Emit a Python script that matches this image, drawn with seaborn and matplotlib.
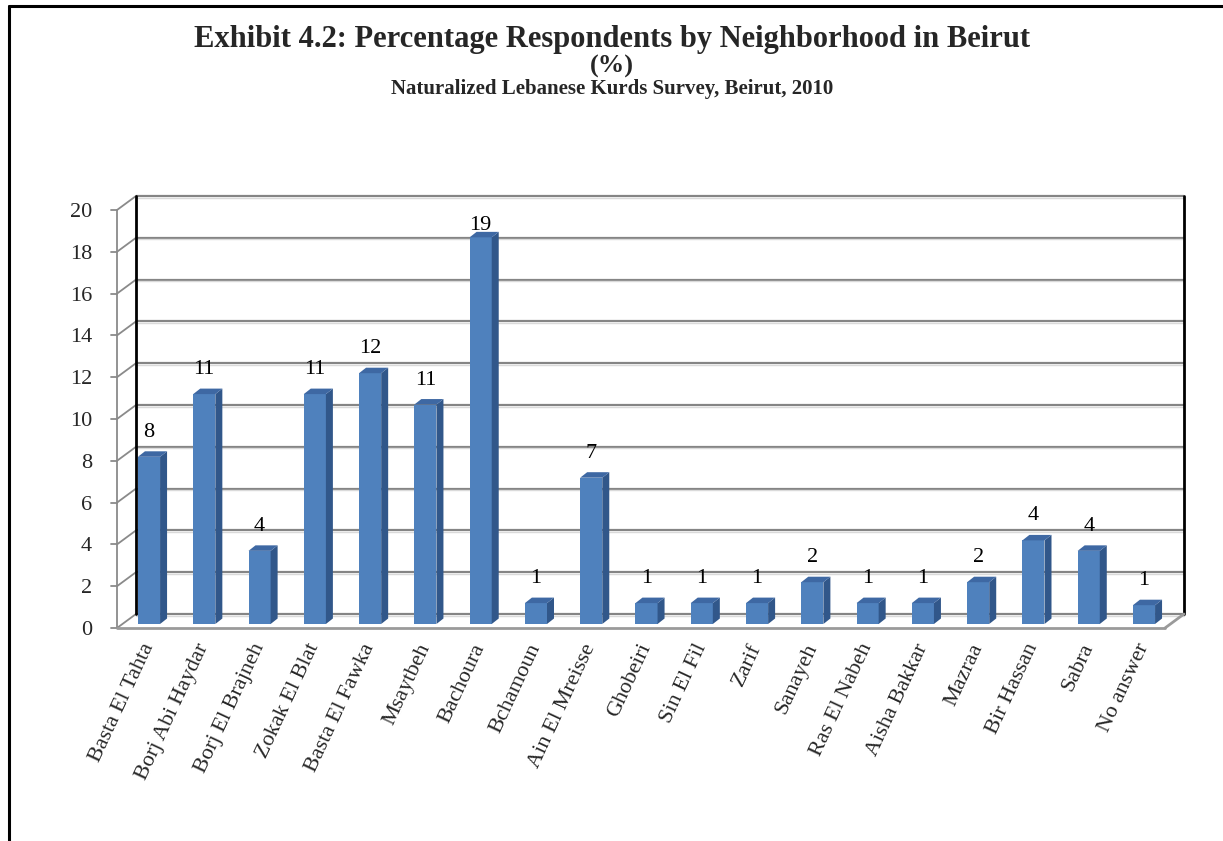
import numpy as np
import pandas as pd
import matplotlib
matplotlib.use("Agg")
import matplotlib.pyplot as plt
import seaborn as sns
from matplotlib.transforms import ScaledTranslation

# ---- data ----
neighborhoods = ["Basta El Tahta", "Borj Abi Haydar", "Borj El Brajneh", "Zokak El Blat",
                 "Basta El Fawka", "Msaytbeh", "Bachoura", "Bchamoun", "Ain El Mreisse",
                 "Ghobeiri", "Sin El Fil", "Zarif", "Sanayeh", "Ras El Nabeh",
                 "Aisha Bakkar", "Mazraa", "Bir Hassan", "Sabra", "No answer"]
percent = [8.0, 11.0, 3.5, 11.0, 12.0, 10.5, 18.5, 1.0, 7.0,
           1.0, 1.0, 1.0, 2.0, 1.0, 1.0, 2.0, 4.0, 3.5, 0.9]
value_labels = ["8", "11", "4", "11", "12", "11", "19", "1", "7",
                "1", "1", "1", "2", "1", "1", "2", "4", "4", "1"]
y_ticks = [0, 2, 4, 6, 8, 10, 12, 14, 16, 18, 20]

title = "Exhibit 4.2: Percentage Respondents by Neighborhood in Beirut"
title2 = "(%)"
subtitle = "Naturalized Lebanese Kurds Survey, Beirut, 2010"

df = pd.DataFrame({"Neighborhood": neighborhoods, "Percent": percent})

sns.set_theme(style="white")
plt.rcParams["font.family"] = ["Liberation Serif", "DejaVu Serif"]

W, H, DPI = 1223, 841, 100
fig = plt.figure(figsize=(W / DPI, H / DPI), dpi=DPI)
fig.patch.set_facecolor("white")

# front plane of the pseudo-3D box (pixel geometry)
ax_l, ax_r, ax_top, ax_bot = 117, 1165, 210, 628
ax = fig.add_axes([ax_l / W, (H - ax_bot) / H, (ax_r - ax_l) / W, (ax_bot - ax_top) / H])
ax.set_facecolor("none")

BAR_BLUE = "#4F81BD"
SIDE_BLUE = "#31578A"
TOP_BLUE = "#3E68A3"

sns.barplot(data=df, x="Neighborhood", y="Percent", color=BAR_BLUE, width=0.4,
            saturation=1, ax=ax, zorder=3, edgecolor="none")

xmin, xmax = -0.579, 18.38
ax.set_xlim(xmin, xmax)
ax.set_ylim(0, 20)

# conversion pixels -> data units
px_x = (ax_r - ax_l) / (xmax - xmin)
px_y = (ax_bot - ax_top) / 20.0
back_dx = 19 / px_x
back_dy = 14 / px_y

# back wall grid lines
for t in y_ticks:
    ax.plot([xmin + back_dx, xmax + back_dx], [t + back_dy, t + back_dy],
            color="#858585", lw=1.6, zorder=1, clip_on=False, solid_capstyle="butt")
    ax.plot([xmin + back_dx, xmax + back_dx], [t + back_dy - 1.6 / px_y] * 2,
            color="#dadada", lw=1.0, zorder=1, clip_on=False)
    # side wall diagonals
    ax.plot([xmin, xmin + back_dx], [t, t + back_dy], color="#8a8a8a", lw=1.3,
            zorder=1, clip_on=False)
    # tick marks
    ax.plot([xmin - 6 / px_x, xmin], [t, t], color="#8a8a8a", lw=1.3, zorder=1, clip_on=False)

# back wall verticals
ax.plot([xmin + back_dx] * 2, [back_dy, 20 + back_dy], color="black", lw=2.0, zorder=2, clip_on=False)
ax.plot([xmax + back_dx] * 2, [back_dy, 20 + back_dy], color="black", lw=2.0, zorder=2, clip_on=False)
# front left axis
ax.plot([xmin, xmin], [0, 20], color="#8a8a8a", lw=1.3, zorder=2, clip_on=False)
# floor front edge and right diagonal
ax.plot([xmin, xmax], [0, 0], color="#9a9a9a", lw=2.0, zorder=2, clip_on=False)
ax.plot([xmax, xmax + back_dx], [0, back_dy], color="#9a9a9a", lw=2.0, zorder=2, clip_on=False)

# bars: small lift above the floor plus depth faces
lift = ScaledTranslation(0, 4 / DPI, fig.dpi_scale_trans)
depth_x = 7 / px_x
depth_y = 5.5 / px_y
for p in ax.patches:
    p.set_transform(ax.transData + lift)
    x0 = p.get_x()
    w = p.get_width()
    h = p.get_height()
    side = plt.Polygon([[x0 + w, 0], [x0 + w + depth_x, depth_y],
                        [x0 + w + depth_x, h + depth_y], [x0 + w, h]],
                       closed=True, facecolor=SIDE_BLUE, edgecolor="none", zorder=3,
                       transform=ax.transData + lift)
    top = plt.Polygon([[x0, h], [x0 + depth_x, h + depth_y],
                       [x0 + w + depth_x, h + depth_y], [x0 + w, h]],
                      closed=True, facecolor=TOP_BLUE, edgecolor="none", zorder=3,
                      transform=ax.transData + lift)
    ax.add_patch(side)
    ax.add_patch(top)

# value labels
for i, (v, lab) in enumerate(zip(percent, value_labels)):
    off = 19 if v < 17 else 6
    ax.annotate(lab, (i, v), xytext=(0, off * 72 / DPI), textcoords="offset points",
                ha="center", va="bottom", fontsize=16, color="black", zorder=5)

for s in ax.spines.values():
    s.set_visible(False)
ax.grid(False)
ax.set_yticks(y_ticks)
ax.set_yticklabels([str(t) for t in y_ticks], fontsize=16)
ax.tick_params(axis="y", length=0, pad=18)
ax.set_xticks(range(len(neighborhoods)))
ax.set_xticklabels(neighborhoods, rotation=65, ha="right", va="center",
                   rotation_mode="anchor", fontsize=16)
ax.tick_params(axis="x", length=0, pad=12)
ax.set_xlabel("")
ax.set_ylabel("")

# titles
fig.text(612 / W, 1 - 39 / H, title, ha="center", va="center", fontsize=22, fontweight="bold")
fig.text(612 / W, 1 - 66 / H, title2, ha="center", va="center", fontsize=19, fontweight="bold")
fig.text(612 / W, 1 - 89 / H, subtitle, ha="center", va="center", fontsize=15, fontweight="bold")

# outer frame (top and left edge)
fig.add_artist(plt.Line2D([9 / W, 1.0], [1 - 6 / H] * 2, transform=fig.transFigure,
                          color="black", lw=2.2))
fig.add_artist(plt.Line2D([9 / W] * 2, [0, 1 - 6 / H], transform=fig.transFigure,
                          color="black", lw=2.2))

fig.savefig("out.png", dpi=DPI)
